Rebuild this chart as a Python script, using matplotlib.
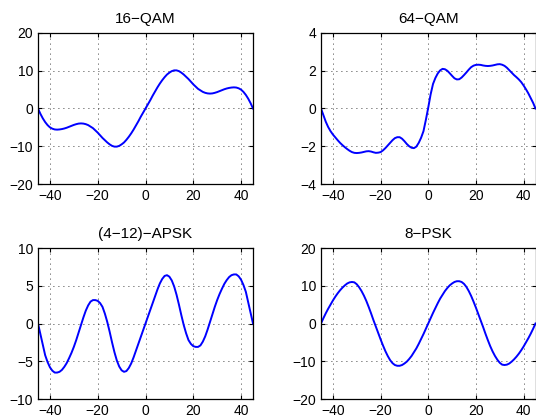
import matplotlib
matplotlib.use('Agg')
import matplotlib.pyplot as plt

plt.rcParams['font.family'] = ['Liberation Sans', 'DejaVu Sans']

# sample positions, one per degree from -45 to 45
x = list(range(-45, 46))

qam16 = [0, -1.4, -2.6, -3.6, -4.4, -5.0, -5.35, -5.55, -5.6, -5.55, -5.45, -5.3,
         -5.1, -4.85, -4.6, -4.35, -4.15, -4.0, -3.95, -4.0, -4.15, -4.4, -4.8,
         -5.2, -5.8, -6.4, -7.1, -7.8, -8.4, -9.0, -9.5, -9.9, -10.1, -10.1, -9.9,
         -9.5, -9.0, -8.3, -7.5, -6.6, -5.6, -4.5, -3.4, -2.2, -1.1,
         0,
         1.1, 2.2, 3.4, 4.5, 5.6, 6.6, 7.5, 8.3, 9.0, 9.5, 9.9, 10.1, 10.1, 9.9,
         9.5, 9.0, 8.4, 7.8, 7.1, 6.4, 5.8, 5.2, 4.8, 4.4, 4.15, 4.0, 3.95, 4.0,
         4.15, 4.35, 4.6, 4.85, 5.1, 5.3, 5.45, 5.55, 5.6, 5.55, 5.35, 5.0, 4.4,
         3.6, 2.6, 1.4, 0]

qam64 = [0, -0.35, -0.7, -0.98, -1.2, -1.38, -1.53, -1.68, -1.82, -1.94, -2.05,
         -2.15, -2.24, -2.31, -2.35, -2.36, -2.35, -2.33, -2.3, -2.27, -2.26,
         -2.28, -2.32, -2.35, -2.34, -2.31, -2.22, -2.1, -1.96, -1.82, -1.68,
         -1.57, -1.52, -1.52, -1.6, -1.73, -1.88, -2.0, -2.08, -2.1, -2.02, -1.82,
         -1.55, -1.2, -0.6,
         0.05,
         0.75, 1.3, 1.62, 1.86, 2.02, 2.1, 2.08, 2.0, 1.87, 1.73, 1.6, 1.54, 1.55,
         1.64, 1.77, 1.91, 2.06, 2.19, 2.27, 2.31, 2.32, 2.31, 2.28, 2.26, 2.25,
         2.26, 2.28, 2.31, 2.34, 2.35, 2.32, 2.26, 2.16, 2.03, 1.9, 1.77, 1.66,
         1.54, 1.4, 1.22, 1.02, 0.8, 0.55, 0.3, 0]

apsk = [0, -1.4, -2.8, -4.2, -5.1, -5.8, -6.25, -6.5, -6.5, -6.4, -6.15, -5.75,
        -5.25, -4.6, -3.9, -3.1, -2.2, -1.2, -0.2, 0.8, 1.7, 2.4, 2.9, 3.1, 3.1,
        3.0, 2.7, 2.2, 1.3, 0.2, -1.1, -2.5, -3.8, -4.9, -5.7, -6.2, -6.4, -6.3,
        -5.9, -5.3, -4.5, -3.6, -2.7, -1.8, -0.9,
        0,
        0.9, 1.8, 2.7, 3.6, 4.5, 5.3, 5.9, 6.3, 6.4, 6.2, 5.7, 4.9, 3.8, 2.5, 1.1,
        -0.2, -1.3, -2.2, -2.7, -3.0, -3.1, -3.1, -2.9, -2.4, -1.7, -0.8, 0.2, 1.2,
        2.2, 3.1, 3.9, 4.6, 5.25, 5.75, 6.15, 6.4, 6.5, 6.5, 6.25, 5.8, 5.1, 4.2,
        2.8, 1.4, 0]

psk8 = [0, 1.4, 2.7, 3.9, 5.0, 6.1, 7.1, 8.0, 8.8, 9.5, 10.1, 10.6, 10.9, 11.0,
        10.9, 10.4, 9.6, 8.6, 7.4, 6.0, 4.4, 2.7, 0.9, -0.8, -2.5, -4.2, -5.8,
        -7.3, -8.6, -9.7, -10.5, -11.0, -11.2, -11.2, -11.0, -10.6, -10.1, -9.4,
        -8.6, -7.6, -6.6, -5.4, -4.1, -2.8, -1.4,
        0,
        1.4, 2.8, 4.1, 5.4, 6.6, 7.6, 8.6, 9.4, 10.1, 10.6, 11.0, 11.2, 11.2, 11.0,
        10.5, 9.7, 8.6, 7.3, 5.8, 4.2, 2.5, 0.8, -0.9, -2.7, -4.4, -6.0, -7.4,
        -8.6, -9.6, -10.4, -10.9, -11.0, -10.9, -10.6, -10.1, -9.5, -8.8, -8.0,
        -7.1, -6.1, -5.0, -3.9, -2.7, -1.4, 0]

titles = ['16\u2212QAM', '64\u2212QAM', '(4\u221212)\u2212APSK', '8\u2212PSK']
series = [qam16, qam64, apsk, psk8]
yticks = [[-20, -10, 0, 10, 20], [-4, -2, 0, 2, 4], [-10, -5, 0, 5, 10], [-20, -10, 0, 10, 20]]
xticks = [-40, -20, 0, 20, 40]

W, H = 536, 419
fig = plt.figure(figsize=(W / 100, H / 100), dpi=100)

# axes boxes in pixels: left, top, right, bottom
boxes = [(38, 33, 253, 184), (321, 33, 535.5, 184),
         (38, 248, 253, 399), (321, 248, 535.5, 399)]

for box, ys, title, yt in zip(boxes, series, titles, yticks):
    l, t, r, b = box
    ax = fig.add_axes([l / W, 1 - b / H, (r - l) / W, (b - t) / H])
    ax.plot(x, ys, color='#0000ff', lw=1.4)
    ax.set_xlim(-45, 45)
    ax.set_ylim(yt[0], yt[-1])
    ax.set_xticks(xticks)
    ax.set_yticks(yt)
    ax.grid(True, color='black', linestyle=(0, (1, 5)), lw=0.6)
    ax.tick_params(direction='in', length=3, top=True, right=True, pad=3.5, labelsize=10)
    for s in ax.spines.values():
        s.set_linewidth(0.9)
    ax.set_title(title, fontsize=11, pad=7)

fig.savefig('out.png', dpi=100)
